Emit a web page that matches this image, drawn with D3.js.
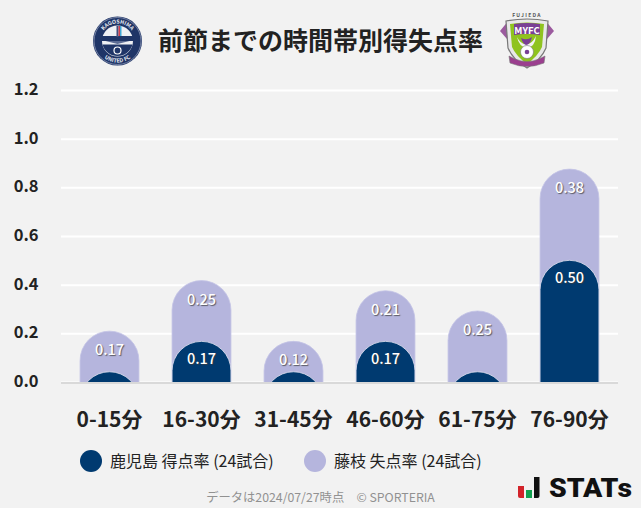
<!DOCTYPE html>
<html><head><meta charset="utf-8">
<script src="https://cdnjs.cloudflare.com/ajax/libs/d3/7.8.5/d3.min.js"></script>
<style>
html,body{margin:0;padding:0;background:#f2f2f2}
svg{display:block}
text{font-family:"Noto Sans CJK JP","Noto Sans",sans-serif}
.val{text-shadow:1px 1px 1px rgba(60,60,60,.75)}
</style></head><body><div id="c"></div>
<script>
const categories=["0-15分","16-30分","31-45分","46-60分","61-75分","76-90分"];
const homeValues=[0.042,0.167,0.042,0.167,0.042,0.50];
const awayValues=[0.167,0.25,0.125,0.208,0.25,0.375];
const homeLabels=["","0.17","","0.17","","0.50"];
const awayLabels=["0.17","0.25","0.12","0.21","0.25","0.38"];
const yTicks=[0,0.2,0.4,0.6,0.8,1.0,1.2];
const title="前節までの時間帯別得失点率";
const legendLabels=["鹿児島 得点率 (24試合)","藤枝 失点率 (24試合)"];
const footer="データは2024/07/27時点　© SPORTERIA";
const NAVY="#003a70",LILAC="#b5b5dd";

const W=641,H=508;
const svg=d3.select("#c").append("svg").attr("width",W).attr("height",H);
svg.append("rect").attr("width",W).attr("height",H).attr("fill","#f2f2f2");
const x=d3.scaleBand().domain(categories).range([63.5,615.5]).paddingInner(0.36).paddingOuter(0.18);
const y=d3.scaleLinear().domain([0,1.2]).range([382,90]);

// axes
const gy=svg.append("g").attr("transform","translate(61,0)")
  .call(d3.axisLeft(y).tickValues(yTicks).tickFormat(d3.format(".1f")).tickSize(-557));
gy.select(".domain").remove();
gy.selectAll("line").attr("stroke","#fff").attr("stroke-width",2);
gy.selectAll("text").attr("x",-22.5).attr("y",-1.5).attr("dy","0.36em").attr("fill","#222").attr("font-size",16.5).attr("font-weight",700);
const gx=svg.append("g").attr("transform","translate(0,382)")
  .call(d3.axisBottom(x).tickSize(0));
gx.select(".domain").remove();
gx.selectAll("text").attr("y",39).attr("dy",0).attr("dominant-baseline","middle").attr("fill","#222").attr("font-size",21).attr("font-weight",700);

// bars
const r=x.bandwidth()/2;
svg.append("clipPath").attr("id","plot").append("rect").attr("x",0).attr("y",0).attr("width",W).attr("height",y(0));
const capPath=(cat,top)=>{
  const l=x(cat),w=x.bandwidth();
  return `M${l},${y(0)+r}V${top+r}A${r},${r} 0 0 1 ${l+w},${top+r}V${y(0)+r}Z`;
};
const bars=svg.append("g").attr("clip-path","url(#plot)");
bars.selectAll("path.away").data(categories).join("path").attr("class","away")
  .attr("d",(c,i)=>capPath(c,y(homeValues[i]+awayValues[i])))
  .attr("fill",LILAC).attr("stroke","#c4c4e6").attr("stroke-width",.8);
bars.selectAll("path.home").data(categories).join("path").attr("class","home")
  .attr("d",(c,i)=>capPath(c,y(homeValues[i])))
  .attr("fill",NAVY).attr("stroke","#e4e4f2").attr("stroke-width",.8);
svg.append("line").attr("x1",61).attr("x2",618).attr("y1",y(0)+1).attr("y2",y(0)+1).attr("stroke","#d9d9d9").attr("stroke-width",2);

// value labels
const vals=svg.append("g").attr("text-anchor","middle").attr("fill","#fff").attr("font-size",14.5).attr("font-weight",500);
vals.selectAll("text.a").data(categories).join("text").attr("class","val a")
  .attr("x",c=>x(c)+x.bandwidth()/2)
  .attr("y",(c,i)=>y(homeValues[i]+awayValues[i])+24)
  .text((c,i)=>awayLabels[i]);
vals.selectAll("text.h").data(categories).join("text").attr("class","val h")
  .attr("x",c=>x(c)+x.bandwidth()/2)
  .attr("y",(c,i)=>y(homeValues[i])+23)
  .text((c,i)=>homeLabels[i]);

// title
svg.append("text").attr("x",320.5).attr("y",50).attr("text-anchor","middle").attr("font-size",25).attr("font-weight",700).attr("fill","#222").text(title);

// legend
const lg=svg.append("g");
const legendX=[91,315],legendColors=[NAVY,LILAC];
lg.selectAll("circle").data(legendLabels).join("circle").attr("cx",(d,i)=>legendX[i]).attr("cy",461).attr("r",11).attr("fill",(d,i)=>legendColors[i]);
lg.selectAll("text").data(legendLabels).join("text").attr("x",(d,i)=>legendX[i]+19).attr("y",466.5).attr("font-size",16).attr("fill","#222").text(d=>d);

// footer
svg.append("text").attr("x",320.5).attr("y",502).attr("text-anchor","middle").attr("font-size",12.3).attr("fill","#919191").text(footer);

// Kagoshima badge
const k=svg.append("g").attr("transform","translate(117.5,41)");
k.append("circle").attr("r",24.5).attr("fill","#1f3567");
k.append("circle").attr("r",23.5).attr("fill","none").attr("stroke","#8d97b5").attr("stroke-width",.8);
k.append("circle").attr("r",15.5).attr("fill","#eef0f4");
k.append("path").attr("d","M-15.5,-5H15.5V0H-15.5Z").attr("fill","#1f3567");
k.append("path").attr("d","M-15,3.5A15.5,15.5 0 0 0 15,3.5Z").attr("fill","#1f3567");
k.append("path").attr("d","M-12,0L12,0L0,3Z").attr("fill","#5c6c94");
k.append("rect").attr("x",-1).attr("y",-15).attr("width",2).attr("height",11).attr("fill","#3f4f7d");
k.append("rect").attr("x",1).attr("y",-15).attr("width",1.5).attr("height",10).attr("fill","#d23c4a");
k.append("rect").attr("x",2.5).attr("y",-15).attr("width",1.5).attr("height",10).attr("fill","#3fa8d8");
k.append("circle").attr("cy",9.5).attr("r",3.5).attr("fill","none").attr("stroke","#fff").attr("stroke-width",1.2);
const kt=k.append("g").attr("fill","#e8ebf2").attr("font-size",5.4).attr("font-weight",700).attr("text-anchor","middle");
kt.append("path").attr("id","ktop").attr("d","M-17.5,0A17.5,17.5 0 0 1 17.5,0").attr("fill","none");
kt.append("path").attr("id","kbot").attr("d","M-21.5,0A21.5,21.5 0 0 0 21.5,0").attr("fill","none");
kt.append("text").append("textPath").attr("href","#ktop").attr("startOffset","50%").text("KAGOSHIMA");
kt.append("text").append("textPath").attr("href","#kbot").attr("startOffset","50%").text("UNITED FC");

// Fujieda badge
const f=svg.append("g").attr("transform","translate(527,42)");
f.append("text").attr("y",-25).attr("text-anchor","middle").attr("font-size",5).attr("font-weight",700).attr("letter-spacing",1.3).attr("fill","#555").text("FUJIEDA");
f.append("path").attr("d","M-27,-11L-18,-22L-15,-6L-20,-3Z M27,-11L18,-22L15,-6L20,-3Z").attr("fill","#9b5a9e");
f.append("path").attr("d","M-21,-21Q0,-25 21,-21L19,6Q14,18 0,26Q-14,18 -19,6Z").attr("fill","#e8e8e8").attr("stroke","#777").attr("stroke-width",1.2);
f.append("path").attr("d","M-17,-18Q0,-21 17,-18L15,5Q11,14 0,22Q-11,14 -15,5Z").attr("fill","#8fc31f");
f.append("path").attr("d","M-13,-18Q0,-20 13,-18L13,-7Q0,-9 -13,-7Z").attr("fill","#7a3f95");
f.append("text").attr("y",-8.5).attr("text-anchor","middle").attr("font-size",9.5).attr("font-weight",700).attr("fill","#fff").text("MYFC");
f.append("path").attr("d","M-10,-5Q-6,3 0,2Q5,2 9,-6Q8,5 0,6Q-8,5 -10,-5Z").attr("fill","#f2f2f2");
f.append("path").attr("d","M-6,-4Q0,-1 5,-5Q3,3 -1,3Q-4,2 -6,-4Z").attr("fill","#7a3f95");
f.append("circle").attr("cy",10).attr("r",6.5).attr("fill","#fff").attr("stroke","#777").attr("stroke-width",.6);
f.append("circle").attr("cy",10).attr("r",2.3).attr("fill","#7a3f95");
f.append("path").attr("d","M-18,14L-12,17Q0,22 12,17L18,14L17,21Q0,28 -17,21Z").attr("fill","#9b3f8f").attr("stroke","#777").attr("stroke-width",.6);

// STATS logo
const s=svg.append("g").attr("transform","translate(518,477)");
s.append("path").attr("d","M0,9H6V21H2Q0,21 0,19Z").attr("fill","#d2232a");
s.append("rect").attr("x",8).attr("y",13).attr("width",6).attr("height",8).attr("fill","#12a150");
s.append("path").attr("d","M16,0H21.5V19Q21.5,21 19.5,21H16Z").attr("fill","#111");
svg.append("text").attr("x",549).attr("y",497).attr("font-size",25).attr("font-weight",900).attr("textLength",83).attr("lengthAdjust","spacingAndGlyphs").attr("fill","#111").style("font-family","Roboto,sans-serif").text("STATs");
</script></body></html>
